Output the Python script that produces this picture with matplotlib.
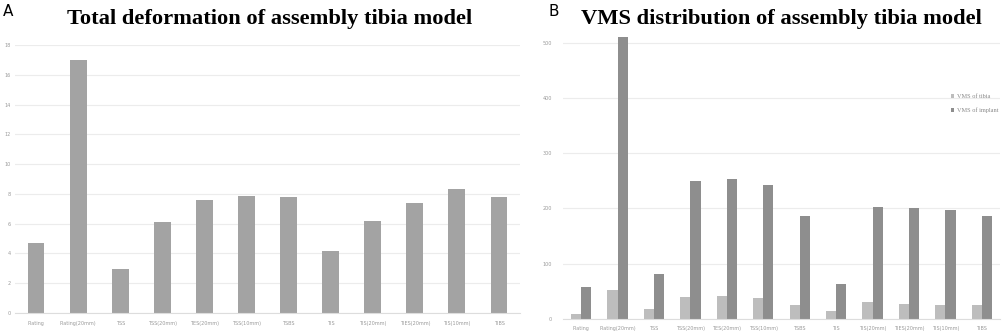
import matplotlib
matplotlib.use("Agg")
import matplotlib.pyplot as plt
import numpy as np

cats_a = ["Plating", "Plating(20mm)", "TSS", "TSS(20mm)", "TES(20mm)", "TSS(10mm)",
          "TSBS", "TIS", "TIS(20mm)", "TIES(20mm)", "TIS(10mm)", "TIBS"]
deformation = [4.7, 17.0, 2.95, 6.1, 7.6, 7.85, 7.8, 4.15, 6.2, 7.4, 8.3, 7.8]

cats_b = cats_a
vms_tibia = [9, 52, 18, 40, 42, 38, 26, 14, 30, 28, 26, 26]
vms_implant = [58, 510, 81, 250, 253, 243, 186, 63, 202, 200, 197, 186]

W, H = 1005, 336
fig = plt.figure(figsize=(W / 100, H / 100), dpi=100)

def frac(x0, x1, ytop, ybot):
    return [x0 / W, 1 - ybot / H, (x1 - x0) / W, (ybot - ytop) / H]

tick_color = "#9a9a9a"
grid_color = "#ececec"

# Panel A
axA = fig.add_axes(frac(15, 520, 45, 313))
x = np.arange(len(cats_a))
axA.bar(x, deformation, width=0.4, color="#a3a3a3", zorder=2)
axA.set_xlim(-0.5, len(cats_a) - 0.5)
axA.set_ylim(0, 18)
axA.set_yticks(np.arange(0, 19, 2))
axA.set_xticks(x)
axA.set_xticklabels(cats_a)
axA.grid(axis="y", color=grid_color, linewidth=0.8, zorder=0)
for s in axA.spines.values():
    s.set_visible(False)
axA.spines["bottom"].set_visible(True)
axA.spines["bottom"].set_color("#dddddd")
axA.tick_params(axis="both", length=0, labelsize=3.5, labelcolor=tick_color)
axA.tick_params(axis="x", pad=6)
axA.tick_params(axis="y", pad=3)

# Panel B
axB = fig.add_axes(frac(563, 1000, 15, 319))
xb = np.arange(len(cats_b))
bw = 0.28
axB.bar(xb - bw / 2, vms_tibia, width=bw, color="#bdbdbd", zorder=2, label="VMS of tibia")
axB.bar(xb + bw / 2, vms_implant, width=bw, color="#8e8e8e", zorder=2, label="VMS of implant")
axB.set_xlim(-0.5, len(cats_b) - 0.5)
axB.set_ylim(0, 550)
axB.set_yticks(np.arange(0, 501, 100))
axB.set_xticks(xb)
axB.set_xticklabels(cats_b)
axB.grid(axis="y", color=grid_color, linewidth=0.8, zorder=0)
for s in axB.spines.values():
    s.set_visible(False)
axB.spines["bottom"].set_visible(True)
axB.spines["bottom"].set_color("#dddddd")
axB.tick_params(axis="both", length=0, labelsize=3.5, labelcolor=tick_color)
axB.tick_params(axis="x", pad=5)
axB.tick_params(axis="y", pad=8)
leg = axB.legend(loc="upper left", bbox_to_anchor=((945 - 563) / 437, 1 - (88 - 15) / 304),
                 frameon=False, prop={"family": "Liberation Serif", "size": 4.5},
                 handlelength=0.6, handleheight=0.6, handletextpad=0.4, labelspacing=1.4)
for t in leg.get_texts():
    t.set_color("#888888")

# Titles
fig.text(270 / W, 1 - 19 / H, "Total deformation of assembly tibia model", ha="center", va="center",
         family="Liberation Serif", fontweight="bold", fontsize=16.2)
fig.text(781 / W, 1 - 19 / H, "VMS distribution of assembly tibia model", ha="center", va="center",
         family="Liberation Serif", fontweight="bold", fontsize=16.2)
fig.text(3 / W, 1 - 12 / H, "A", ha="left", va="center", family="DejaVu Sans", fontsize=11)
fig.text(548 / W, 1 - 12 / H, "B", ha="left", va="center", family="DejaVu Sans", fontsize=11)

fig.savefig("out.png", dpi=100)
